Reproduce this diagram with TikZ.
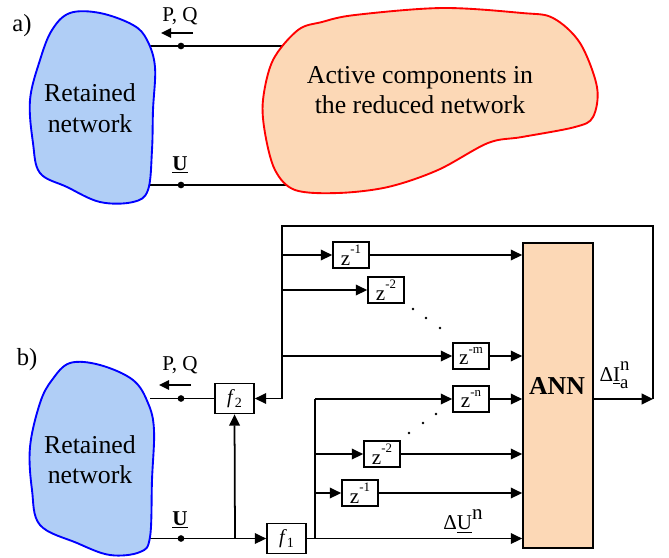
\documentclass[tikz,border=0pt]{standalone}
\usepackage{fontspec}
\setmainfont{Liberation Serif}
\usetikzlibrary{arrows.meta}
\definecolor{blobblue}{RGB}{176,206,246}
\definecolor{peach}{RGB}{252,216,182}
\newcommand\fs[1]{\fontsize{#1}{#1}\selectfont}
\newcommand\zpow[1]{z\raisebox{0.55em}{\fs{11}#1}}
\begin{document}
\begin{tikzpicture}[x=0.03cm,y=-0.03cm,
  wire/.style={line width=1.5pt},
  arr/.style={wire,-{Triangle[length=0.34cm,width=0.32cm]}},
  zbox/.style={draw,fill=white,line width=1.5pt,minimum width=1.08cm,minimum height=0.8cm,inner sep=0pt,font=\fs{18}},
  fbox/.style={draw,fill=white,line width=1.5pt,minimum width=1.17cm,minimum height=0.9cm,inner sep=0pt,font=\fs{17}},
  lbl/.style={inner sep=0pt,font=\fs{18}},
  bigtxt/.style={inner sep=0pt,align=center,font=\fontsize{22}{26}\selectfont},
  dotn/.style={circle,fill,inner sep=0pt,minimum size=0.2cm},
  smalldot/.style={circle,fill,inner sep=0pt,minimum size=0.08cm},
  blueblob/.style={draw=blue,fill=blobblue,line width=1.6pt},
  redblob/.style={draw=red,fill=peach,line width=1.6pt},
]
\useasboundingbox (0,0) rectangle (669,557);

% ---------------- part a ----------------
\node[inner sep=0pt,font=\fs{21}] (la) at (22,26) {a)};
\coordinate (aL1) at (148,46);
\coordinate (aR1) at (286,46);
\coordinate (aL2) at (150,185);
\coordinate (aR2) at (294,185);
\draw[wire] (aR1) -- (aL1);
\draw[wire] (aR2) -- (aL2);
\draw[blueblob] plot[smooth cycle,tension=0.6] coordinates {
 (70,13) (100,13) (133,25) (147,40) (155,67) (153,110) (152,150) (148,190)
 (133,202) (100,202) (67,187) (40,173) (33,143) (30,100) (40,60) (52,30)};
\draw[redblob] plot[smooth cycle,tension=0.55] coordinates {
 (263,100) (273,60) (298,30) (322,22) (355,15) (442,8) (522,13) (553,18)
 (580,43) (597,87) (593,117) (575,127) (522,137) (488,143) (438,170)
 (388,187) (338,193) (295,190) (275,170) (265,133)};
\node[bigtxt] (reta) at (90,108) {Retained\\network};
\node[bigtxt] (act) at (420,90) {Active components in\\the reduced network};
\node[dotn] (da1) at (181,46) {};
\node[dotn] (da2) at (181,185) {};
\node[lbl] (pqa) at (180,16) {P, Q};
\coordinate (pqa1) at (193,33);
\coordinate (pqa2) at (161,33);
\draw[wire,-{Triangle[length=0.3cm,width=0.28cm]}] (pqa1) -- (pqa2);
\node[lbl,font=\fs{18}\bfseries] (ua) at (180,165) {\underline{U}};

% ---------------- part b ----------------
\node[inner sep=0pt,font=\fs{21}] (lb) at (27,360) {b)};
\node[fbox] (f2) at (234.5,398.5) {\textit{f}\raisebox{-0.2em}{\fs{12}2}};
\node[fbox] (f1) at (286.5,538.5) {\textit{f}\raisebox{-0.2em}{\fs{12}1}};
\node[draw,fill=peach,line width=1.5pt,minimum width=2.1cm,minimum height=9.15cm,inner sep=0pt] (ann) at (558,395.5) {};
\node[inner sep=0pt,font=\fs{22}\bfseries] (annl) at (557,386) {ANN};

\node[zbox] (z1a) at (351,255) {\zpow{-1}};
\node[zbox] (z2a) at (386,290) {\zpow{-2}};
\node[zbox] (zm) at (471,356) {\zpow{-m}};
\node[zbox] (zn) at (471,399) {\zpow{-n}};
\node[zbox] (z2b) at (382,454) {\zpow{-2}};
\node[zbox] (z1b) at (360,493) {\zpow{-1}};

\coordinate (bL1) at (150,398.5);
\coordinate (bL2) at (150,538.5);
\coordinate (j1) at (235,538.5);
\coordinate (j2) at (315,538.5);
\coordinate (j2n) at (315,399);
\coordinate (j22) at (315,454);
\coordinate (j21) at (315,493);
\coordinate (o1) at (653,399);
\coordinate (o2) at (653,226);
\coordinate (o3) at (282,226);
\coordinate (k1) at (282,255);
\coordinate (k2) at (282,290);
\coordinate (km) at (282,356);

\draw[wire] (f2.west) -- (bL1);
\draw[arr] (bL2) -- (f1.west);
\draw[arr] (j1) -- (f2.south);
\draw[arr] (f1.east) -- (ann.west |- f1.east);
\draw[wire] (j2) -- (j2n);
\draw[arr] (j2n) -- (zn.west);
\draw[arr] (j22) -- (z2b.west);
\draw[arr] (j21) -- (z1b.west);
\draw[arr] (zn.east) -- (ann.west |- zn.east);
\draw[arr] (z2b.east) -- (ann.west |- z2b.east);
\draw[arr] (z1b.east) -- (ann.west |- z1b.east);
\draw[arr] (zm.east) -- (ann.west |- zm.east);
\draw[arr] (z1a.east) -- (ann.west |- z1a.east);
\draw[arr] (ann.east |- o1) -- (o1);
\draw[arr] (o1) -- (o2) -- (o3) -- (o3 |- f2.east) -- (f2.east);
\draw[arr] (k1) -- (z1a.west);
\draw[arr] (k2) -- (z2a.west);
\draw[arr] (km) -- (zm.west);

\draw[blueblob] plot[smooth cycle,tension=0.6] coordinates {
 (70,363) (100,365) (133,380) (148,403) (154,430) (152,480) (150,537)
 (140,552) (110,555) (77,543) (40,525) (32,490) (30,447) (40,403) (52,380)};
\node[bigtxt] (retb) at (90,459.5) {Retained\\network};
\node[dotn] (db1) at (181,398.5) {};
\node[dotn] (db2) at (181,538.5) {};
\node[lbl] (pqb) at (180,365) {P, Q};
\coordinate (pqb1) at (191,385);
\coordinate (pqb2) at (159,385);
\draw[wire,-{Triangle[length=0.3cm,width=0.28cm]}] (pqb1) -- (pqb2);
\node[lbl,font=\fs{18}\bfseries] (ub) at (180,520) {\underline{U}};

\node[lbl] (dUl) at (463,521) {Δ\underline{U}\raisebox{0.5em}{n}};
\node[lbl] (dIl) at (614,375) {Δ\underline{I}\rlap{\raisebox{0.55em}{\fs{16}n}}\raisebox{-0.3em}{\fs{16}a}};

\node[smalldot] (u1) at (413,309) {};
\node[smalldot] (u2) at (426,318) {};
\node[smalldot] (u3) at (440,328) {};
\node[smalldot] (l1) at (409,433) {};
\node[smalldot] (l2) at (423,423) {};
\node[smalldot] (l3) at (436,414) {};
\end{tikzpicture}
\end{document}
